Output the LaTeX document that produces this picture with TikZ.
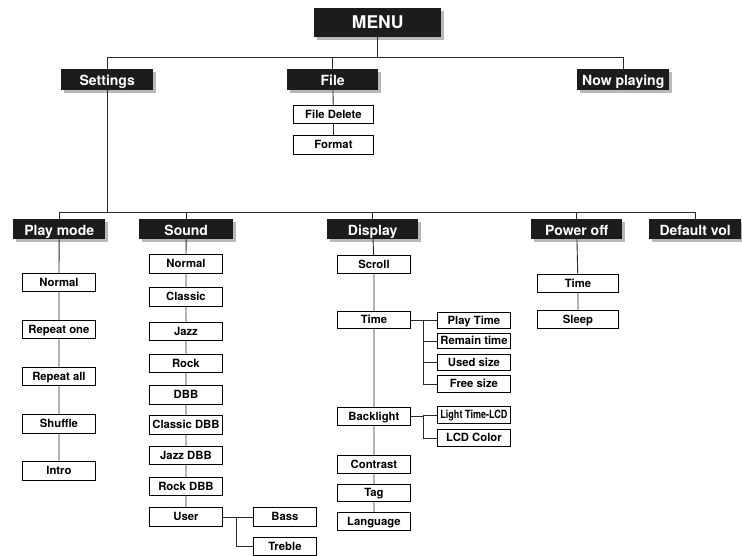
\documentclass[tikz,border=0pt]{standalone}
\usepackage{fontspec}
\usepackage{graphicx}
\setmainfont{TeX Gyre Heros}
\usetikzlibrary{shadows}
\definecolor{boxblack}{HTML}{1C1C1C}
\definecolor{shadowgray}{HTML}{B8B8B8}
\definecolor{linegray}{HTML}{2A2A2A}
\tikzset{
  hdr/.style={anchor=north west, fill=boxblack, text=white, inner sep=0pt,
    text height=12pt, text depth=0pt,
    font=\bfseries\fontsize{14}{14}\selectfont,
    general shadow={fill=shadowgray, shadow xshift=3pt, shadow yshift=-3pt}},
  itembox/.style={anchor=north west, draw=black, line width=0.9pt, fill=white, inner sep=0pt,
    text height=8pt, text depth=0pt,
    font=\bfseries\fontsize{11.3}{11.3}\selectfont},
  conn/.style={draw=linegray, line width=0.9pt},
}
\begin{document}
\begin{tikzpicture}[x=1pt,y=-1pt]
\useasboundingbox (0,0) rectangle (742,555);
% top level
\node[hdr, minimum width=127pt, minimum height=29pt, text height=11pt, font=\bfseries\fontsize{17.5}{17.5}\selectfont] (menu) at (314,8) {MENU};
\node[hdr, minimum width=92pt, minimum height=21pt] (settings) at (61,69) {Settings};
\node[hdr, minimum width=91pt, minimum height=21pt] (file) at (287,69) {File};
\node[hdr, minimum width=92pt, minimum height=21pt] (nowplay) at (577,69) {Now playing};
\node[itembox, minimum width=80pt, minimum height=18pt] (fdel) at (293,105) {File Delete};
\node[itembox, minimum width=80pt, minimum height=19pt] (fformat) at (293,135) {Format};
% second level
\node[hdr, minimum width=92pt, minimum height=20pt] (playmode) at (13,219) {Play mode};
\node[hdr, minimum width=94pt, minimum height=20pt] (sound) at (139,219) {Sound};
\node[hdr, minimum width=91pt, minimum height=20pt] (display) at (327,219) {Display};
\node[hdr, minimum width=91pt, minimum height=20pt] (poweroff) at (531,219) {Power off};
\node[hdr, minimum width=92pt, minimum height=20pt] (defvol) at (649,219) {Default vol};
% play mode
\node[itembox, minimum width=73pt, minimum height=18pt] (pm1) at (22,273) {Normal};
\node[itembox, minimum width=73pt, minimum height=18pt] (pm2) at (22,320) {Repeat one};
\node[itembox, minimum width=73pt, minimum height=18pt] (pm3) at (22,367) {Repeat all};
\node[itembox, minimum width=73pt, minimum height=19pt] (pm4) at (22,414) {Shuffle};
\node[itembox, minimum width=73pt, minimum height=19pt] (pm5) at (22,461) {Intro};
% sound
\node[itembox, minimum width=73pt, minimum height=19pt] (s1) at (149,254) {Normal};
\node[itembox, minimum width=73pt, minimum height=19pt] (s2) at (149,287) {Classic};
\node[itembox, minimum width=73pt, minimum height=18pt] (s3) at (149,322) {Jazz};
\node[itembox, minimum width=73pt, minimum height=18pt] (s4) at (149,354) {Rock};
\node[itembox, minimum width=73pt, minimum height=19pt] (s5) at (149,385) {DBB};
\node[itembox, minimum width=73pt, minimum height=19pt] (s6) at (149,415) {Classic DBB};
\node[itembox, minimum width=73pt, minimum height=18pt] (s7) at (149,446) {Jazz DBB};
\node[itembox, minimum width=73pt, minimum height=18pt] (s8) at (149,477) {Rock DBB};
\node[itembox, minimum width=73pt, minimum height=19pt] (s9) at (149,507) {User};
\node[itembox, minimum width=63pt, minimum height=19pt] (bass) at (253,507) {Bass};
\node[itembox, minimum width=63pt, minimum height=18pt] (treble) at (253,537) {Treble};
% display
\node[itembox, minimum width=73pt, minimum height=18pt] (d1) at (337,255) {Scroll};
\node[itembox, minimum width=73pt, minimum height=17pt] (d2) at (337,311) {Time};
\node[itembox, minimum width=73pt, minimum height=18pt] (d3) at (337,407) {Backlight};
\node[itembox, minimum width=73pt, minimum height=18pt] (d4) at (337,455) {Contrast};
\node[itembox, minimum width=73pt, minimum height=17pt] (d5) at (337,484) {Tag};
\node[itembox, minimum width=73pt, minimum height=18pt] (d6) at (337,512) {Language};
\node[itembox, minimum width=73pt, minimum height=16pt] (t1) at (437,312) {Play Time};
\node[itembox, minimum width=73pt, minimum height=15pt] (t2) at (437,333) {Remain time};
\node[itembox, minimum width=73pt, minimum height=16pt] (t3) at (437,354) {Used size};
\node[itembox, minimum width=73pt, minimum height=17pt] (t4) at (437,375) {Free size};
\node[itembox, minimum width=73pt, minimum height=17pt] (b1) at (437,406) {\scalebox{0.8}[1]{Light Time-LCD}};
\node[itembox, minimum width=73pt, minimum height=17pt] (b2) at (437,429) {LCD Color};
% power off
\node[itembox, minimum width=81pt, minimum height=18pt] (p1) at (537,274) {Time};
\node[itembox, minimum width=81pt, minimum height=18pt] (p2) at (537,310) {Sleep};
% buses
\coordinate (bus1) at (0,57);
\coordinate (bus2) at (0,212);
\coordinate (tj) at (423,0);
\coordinate (uj) at (236,0);
% connectors top
\draw[conn] (menu.south) -- (menu.south |- bus1);
\draw[conn] (settings.north) |- (bus1 -| nowplay.north) -- (nowplay.north);
\draw[conn] (file.north) -- (file.north |- bus1);
\draw[conn] (file) -- (fdel) -- (fformat);
\draw[conn] (settings.south) -- (settings.south |- bus2);
\draw[conn] (playmode.north) |- (bus2 -| defvol.north) -- (defvol.north);
\draw[conn] (sound.north) -- (sound.north |- bus2);
\draw[conn] (display.north) -- (display.north |- bus2);
\draw[conn] (poweroff.north) -- (poweroff.north |- bus2);
% chains
\draw[conn] (playmode) -- (pm1) -- (pm2) -- (pm3) -- (pm4) -- (pm5);
\draw[conn] (sound) -- (s1) -- (s2) -- (s3) -- (s4) -- (s5) -- (s6) -- (s7) -- (s8) -- (s9);
\draw[conn] (display) -- (d1) -- (d2) -- (d3) -- (d4) -- (d5) -- (d6);
\draw[conn] (poweroff) -- (p1) -- (p2);
% user bracket
\draw[conn] (s9.east) -- (bass.west);
\draw[conn] (s9.east -| uj) |- (treble.west);
% time bracket
\draw[conn] (d2.east) -- (d2.east -| tj) |- (t4.west);
\draw[conn] (tj |- t1.west) -- (t1.west);
\draw[conn] (tj |- t2.west) -- (t2.west);
\draw[conn] (tj |- t3.west) -- (t3.west);
% backlight bracket
\draw[conn] (d3.east) -- (d3.east -| tj) |- (b2.west);
\draw[conn] (tj |- b1.west) -- (b1.west);
\end{tikzpicture}
\end{document}
